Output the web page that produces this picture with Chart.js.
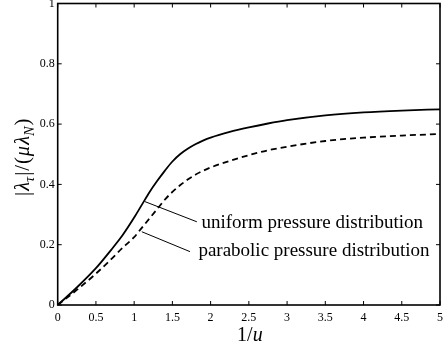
<!DOCTYPE html>
<html>
<head>
<meta charset="utf-8">
<script src="https://cdn.jsdelivr.net/npm/chart.js@4/dist/chart.umd.min.js"></script>
<style>
  body { margin: 0; background: #fff; }
  #wrap { width: 444px; height: 347px; position: relative; }
</style>
</head>
<body>
<div id="wrap"><canvas id="chart"></canvas></div>
<script>
// 1/u values, shared by both curves
const xValues = [0, 0.25, 0.5, 0.7, 0.85, 1.0, 1.1, 1.2, 1.3, 1.4, 1.5, 1.6, 1.7, 1.8, 1.9, 2, 2.25, 2.5, 2.75, 3, 3.5, 4, 4.5, 5];
// uniform pressure distribution (solid)
const uniformValues = [0, 0.058, 0.122, 0.183, 0.232, 0.29, 0.332, 0.374, 0.411, 0.445, 0.476, 0.5, 0.518, 0.533, 0.545, 0.555, 0.574, 0.589, 0.602, 0.613, 0.629, 0.639, 0.645, 0.649];
// parabolic pressure distribution (dashed)
const parabolicValues = [0, 0.05, 0.104, 0.152, 0.19, 0.225, 0.256, 0.287, 0.318, 0.349, 0.375, 0.397, 0.416, 0.432, 0.445, 0.456, 0.478, 0.497, 0.513, 0.525, 0.544, 0.555, 0.562, 0.567];

const xTicks = [0, 0.5, 1, 1.5, 2, 2.5, 3, 3.5, 4, 4.5, 5];
const yTicks = [0, 0.2, 0.4, 0.6, 0.8, 1];

const labelTexts = ['uniform pressure distribution', 'parabolic pressure distribution'];

// leader lines + text anchors (data coords)
const notes = [
  { from: [1.14, 0.343], to: [1.82, 0.276], text: [1.88, 0.255] },
  { from: [1.10, 0.243], to: [1.73, 0.177], text: [1.84, 0.163] }
];

const serif = '"Liberation Serif", "DejaVu Serif", serif';

function toPoints(vals) {
  return xValues.map((x, i) => ({ x: x, y: vals[i] }));
}

// text made of pieces (italic / subscript)
function richWidth(ctx, parts, size) {
  let w = 0;
  parts.forEach(p => {
    const s = p.sub ? size * 0.7 : size;
    ctx.font = (p.it ? 'italic ' : '') + s + 'px ' + serif;
    w += ctx.measureText(p.t).width + (p.gap || 0);
  });
  return w;
}
function drawRich(ctx, parts, x, y, size) {
  parts.forEach(p => {
    const s = p.sub ? size * 0.7 : size;
    ctx.font = (p.it ? 'italic ' : '') + s + 'px ' + serif;
    ctx.fillText(p.t, x, p.sub ? y + size * 0.22 : y);
    x += ctx.measureText(p.t).width + (p.gap || 0);
  });
}

const framePlugin = {
  id: 'frame',
  afterDraw(chart) {
    const ctx = chart.ctx;
    const a = chart.chartArea;
    const xs = chart.scales.x, ys = chart.scales.y;
    ctx.save();
    ctx.strokeStyle = '#000';
    ctx.fillStyle = '#000';

    // inward ticks on all four sides
    ctx.lineWidth = 1;
    xTicks.forEach(v => {
      const px = xs.getPixelForValue(v);
      ctx.beginPath();
      ctx.moveTo(px, a.bottom); ctx.lineTo(px, a.bottom - 4);
      ctx.moveTo(px, a.top); ctx.lineTo(px, a.top + 4);
      ctx.stroke();
    });
    yTicks.forEach(v => {
      const py = ys.getPixelForValue(v);
      ctx.beginPath();
      ctx.moveTo(a.left, py); ctx.lineTo(a.left + 4, py);
      ctx.moveTo(a.right, py); ctx.lineTo(a.right - 4, py);
      ctx.stroke();
    });

    // box
    ctx.lineWidth = 1.6;
    ctx.strokeRect(a.left, a.top, a.right - a.left, a.bottom - a.top);

    // leader lines and labels
    ctx.lineWidth = 1;
    ctx.font = '19px ' + serif;
    ctx.textBaseline = 'alphabetic';
    ctx.textAlign = 'left';
    notes.forEach((n, i) => {
      ctx.beginPath();
      ctx.moveTo(xs.getPixelForValue(n.from[0]), ys.getPixelForValue(n.from[1]));
      ctx.lineTo(xs.getPixelForValue(n.to[0]), ys.getPixelForValue(n.to[1]));
      ctx.stroke();
      ctx.fillText(labelTexts[i], xs.getPixelForValue(n.text[0]), ys.getPixelForValue(n.text[1]));
    });

    // x title: 1/u
    const xt = [{ t: '1/' }, { t: 'u', it: true }];
    const xw = richWidth(ctx, xt, 20);
    drawRich(ctx, xt, (a.left + a.right) / 2 - xw / 2 + 1, 341, 20);

    // y title: |λτ|/(μλN)
    const yt = [
      { t: '|', gap: 1 }, { t: 'λ', it: true }, { t: 'τ', it: true, sub: true, gap: 1 },
      { t: '|', gap: 1 }, { t: '/', gap: 1 }, { t: '(', gap: 1 }, { t: 'μ', it: true, gap: 1 }, { t: 'λ', it: true },
      { t: 'N', it: true, sub: true, gap: 1 }, { t: ')' }
    ];
    const yw = richWidth(ctx, yt, 20.5);
    ctx.translate(29, (a.top + a.bottom) / 2 + 3);
    ctx.rotate(-Math.PI / 2);
    drawRich(ctx, yt, -yw / 2, 0, 20.5);
    ctx.restore();
  }
};

new Chart(document.getElementById('chart'), {
  type: 'line',
  data: {
    datasets: [
      {
        label: labelTexts[0],
        data: toPoints(uniformValues),
        borderColor: '#000',
        borderWidth: 1.8,
        pointRadius: 0,
        cubicInterpolationMode: 'monotone',
        fill: false
      },
      {
        label: labelTexts[1],
        data: toPoints(parabolicValues),
        borderColor: '#000',
        borderWidth: 1.8,
        borderDash: [6, 4],
        pointRadius: 0,
        cubicInterpolationMode: 'monotone',
        fill: false
      }
    ]
  },
  options: {
    responsive: true,
    maintainAspectRatio: false,
    animation: false,
    events: [],
    layout: { padding: { top: 3.5, right: 4, left: 0, bottom: 0 } },
    plugins: { legend: { display: false }, tooltip: { enabled: false } },
    scales: {
      x: {
        type: 'linear',
        min: 0, max: 5,
        grid: { display: false, drawTicks: false },
        border: { display: false },
        afterBuildTicks: s => { s.ticks = xTicks.map(v => ({ value: v })); },
        ticks: {
          padding: 6,
          color: '#000',
          font: { family: serif, size: 12 },
          maxRotation: 0,
          autoSkip: false,
          callback: v => String(v)
        },
        afterFit: s => { s.height = 42; s.paddingLeft = 0; s.paddingRight = 0; }
      },
      y: {
        min: 0, max: 1,
        grid: { display: false, drawTicks: false },
        border: { display: false },
        afterBuildTicks: s => { s.ticks = yTicks.map(v => ({ value: v })); },
        ticks: {
          padding: 3,
          color: '#000',
          font: { family: serif, size: 12 },
          autoSkip: false,
          callback: v => String(v)
        },
        afterFit: s => { s.width = 57.7; s.paddingTop = 0; s.paddingBottom = 0; }
      }
    }
  },
  plugins: [framePlugin]
});
</script>
</body>
</html>
